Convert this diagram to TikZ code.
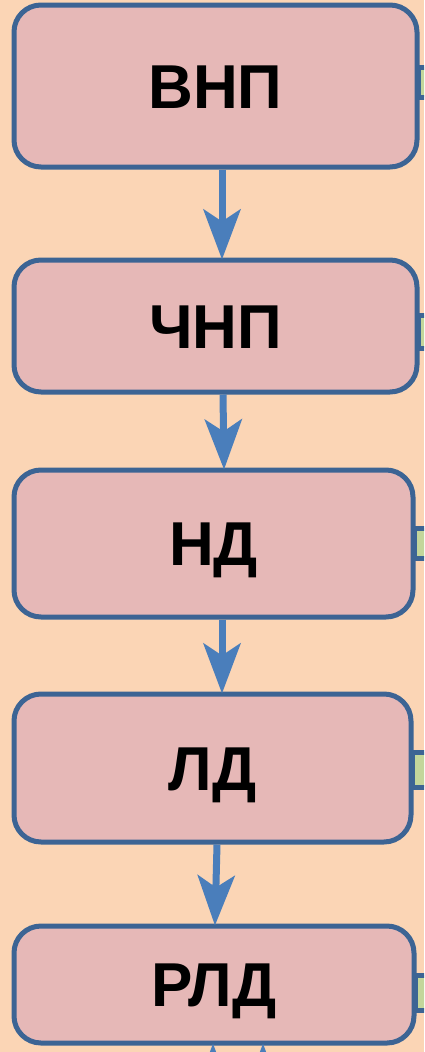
\documentclass[tikz,border=0pt]{standalone}
\usepackage{fontspec}
\setmainfont{Liberation Sans}
\usetikzlibrary{arrows.meta}
\definecolor{bgc}{HTML}{FBD5B5}
\definecolor{boxfill}{HTML}{E6B8B7}
\definecolor{boxline}{HTML}{3C6494}
\definecolor{arrowc}{HTML}{4A7EBB}
\definecolor{greenc}{HTML}{C3D69B}
\tikzset{
  box/.style={draw=boxline, line width=5pt, fill=boxfill, rounded corners=27pt,
    font=\fontsize{62}{62}\selectfont\bfseries, text height=44pt, text depth=0pt,
    inner sep=0pt},
  side/.style={draw=boxline, line width=5pt, fill=greenc, inner sep=0pt},
  flow/.style={draw=arrowc, line width=7pt, -{Stealth[width=37pt,length=50pt,inset=12pt]}, shorten >=-2pt}
}
\begin{document}
\begin{tikzpicture}[x=1pt,y=-1pt]
\useasboundingbox (0,0) rectangle (424,1052);
\clip (0,0) rectangle (424,1052);
\fill[bgc] (0,0) rectangle (424,1052);
% side green boxes (partly outside)
\node[side, minimum width=40pt, minimum height=30pt] (g1) at (438,82) {};
\node[side, minimum width=40pt, minimum height=33pt] (g2) at (438,331.5) {};
\node[side, minimum width=40pt, minimum height=30pt] (g3) at (434,543) {};
\node[side, minimum width=40pt, minimum height=35pt] (g4) at (432,769.5) {};
\node[side, minimum width=40pt, minimum height=35pt] (g5) at (435,992.5) {};
% main boxes
\node[box, minimum width=403pt, minimum height=162pt] (b1) at (215.5,86) {ВНП};
\node[box, minimum width=403pt, minimum height=132pt] (b2) at (215.5,326) {ЧНП};
\node[box, minimum width=399pt, minimum height=147pt] (b3) at (213.5,543.5) {НД};
\node[box, minimum width=397pt, minimum height=148pt] (b4) at (212.5,768) {ЛД};
\node[box, minimum width=400pt, minimum height=117pt] (b5) at (214,984.5) {РЛД};
% arrows
\draw[flow] (b1.south -| 222,0) -- (b2.north -| 222,0);
\draw[flow] (b2.south -| 223,0) -- (b3.north -| 224,0);
\draw[flow] (b3.south -| 222,0) -- (b4.north -| 222,0);
\draw[flow] (b4.south -| 217,0) -- (b5.north -| 215,0);
% arrows coming into the bottom box from below (cut off)
\coordinate (s1) at (213,1110);
\coordinate (s2) at (263,1110);
\draw[flow] (s1) -- (b5.south -| s1);
\draw[flow] (s2) -- (b5.south -| s2);
\end{tikzpicture}
\end{document}
